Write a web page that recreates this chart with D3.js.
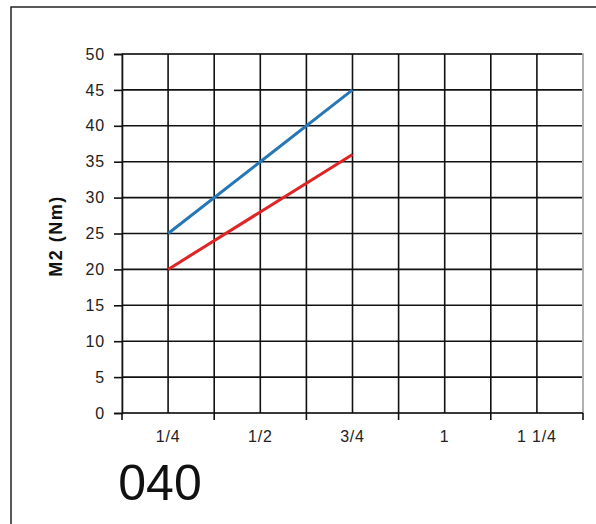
<!DOCTYPE html>
<html><head><meta charset="utf-8">
<script src="https://cdn.jsdelivr.net/npm/d3@7"></script>
<style>body{margin:0;background:#fff}svg{display:block}text{font-family:"Liberation Sans",Arial,sans-serif}</style>
</head><body><svg id="c" width="596" height="524"></svg>
<script>
const categories = ["1/4","1/2","3/4","1","1 1/4"];
const blueValues = [25,35,45];
const redValues = [20,28,36];
const yTicks = [0,5,10,15,20,25,30,35,40,45,50];
const yTitle = "M2 (Nm)";
const label = "040";

const svg = d3.select("#c");
const L=122, R=583, T=54, B=413;
const x = d3.scaleBand().domain(categories).range([L,R]).padding(0);
const y = d3.scaleLinear().domain([0,50]).range([B,T]);

svg.append("rect").attr("x",11).attr("y",7).attr("width",700).attr("height",700)
  .attr("fill","#fff").attr("stroke","#222").attr("stroke-width",1.5);

svg.append("rect").attr("x",L).attr("y",T).attr("width",R-L).attr("height",B-T)
  .attr("fill","none").attr("stroke","#999").attr("stroke-width",1.5);

const g = svg.append("g");
g.selectAll(".hg").data(yTicks.filter(d=>d>0)).join("line")
  .attr("x1",L).attr("x2",R-1).attr("y1",d=>y(d)).attr("y2",d=>y(d))
  .attr("stroke","#111").attr("stroke-width",1.6);
const vpos = [];
categories.forEach((c,i)=>{ vpos.push(x(c)+x.bandwidth()/2); if(i>0) vpos.push(x(c)); });
g.selectAll(".vg").data(vpos).join("line")
  .attr("x1",d=>d).attr("x2",d=>d).attr("y1",T).attr("y2",B)
  .attr("stroke","#111").attr("stroke-width",1.6);

const ya = svg.append("g").attr("transform",`translate(${L},0)`)
  .call(d3.axisLeft(y).tickValues(yTicks).tickSize(8).tickPadding(9));
ya.select(".domain").attr("stroke","#111").attr("stroke-width",1.6);
ya.selectAll(".tick line").attr("stroke","#111").attr("stroke-width",1.6);
ya.selectAll("text").attr("font-size",16).attr("fill","#222").style("letter-spacing","0.8px");

const xa = svg.append("g").attr("transform",`translate(0,${B})`);
xa.append("line").attr("x1",L).attr("x2",R).attr("y1",0).attr("y2",0).attr("stroke","#111").attr("stroke-width",1.6);
const bounds = categories.map(c=>x(c)).concat([R]);
xa.selectAll(".xt").data(bounds).join("line")
  .attr("x1",d=>d).attr("x2",d=>d).attr("y1",0).attr("y2",7).attr("stroke","#111").attr("stroke-width",1.6);
xa.selectAll(".xl").data(categories).join("text")
  .attr("x",d=>x(d)+x.bandwidth()/2).attr("y",29).attr("text-anchor","middle")
  .attr("font-size",16).attr("fill","#222").style("letter-spacing","0.8px").text(d=>d);

svg.append("text").attr("transform","translate(62,236) rotate(-90)")
  .attr("text-anchor","middle").attr("font-size",18).attr("font-weight","bold")
  .style("letter-spacing","1.5px").attr("fill","#111").text(yTitle);

const line = d3.line().x((d,i)=>x(categories[i])+x.bandwidth()/2).y(d=>y(d));
svg.append("path").datum(blueValues).attr("d",line).attr("fill","none")
  .attr("stroke","#2577b5").attr("stroke-width",3);
svg.append("path").datum(redValues).attr("d",line).attr("fill","none")
  .attr("stroke","#e02424").attr("stroke-width",3);

svg.append("text").attr("x",160).attr("y",500).attr("text-anchor","middle")
  .attr("font-size",50).attr("fill","#111").text(label);
</script></body></html>
